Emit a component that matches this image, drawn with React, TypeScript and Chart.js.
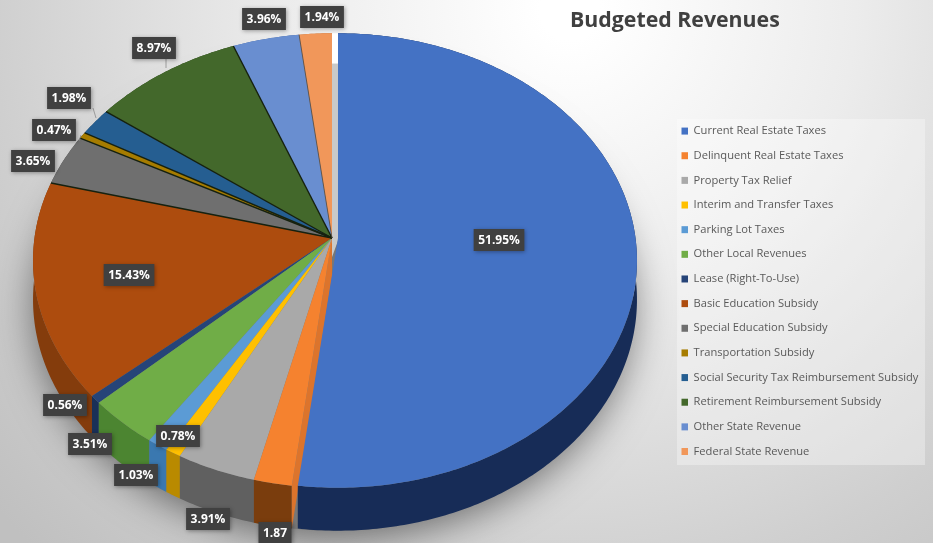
import React, { useEffect, useRef } from "react";
import Chart from "chart.js/auto";

const categories = [
  "Current Real Estate Taxes",
  "Delinquent Real Estate Taxes",
  "Property Tax Relief",
  "Interim and Transfer Taxes",
  "Parking Lot Taxes",
  "Other Local Revenues",
  "Lease (Right-To-Use)",
  "Basic Education Subsidy",
  "Special Education Subsidy",
  "Transportation Subsidy",
  "Social Security Tax Reimbursement Subsidy",
  "Retirement Reimbursement Subsidy",
  "Other State Revenue",
  "Federal State Revenue",
];
const shares = [51.95, 1.87, 3.91, 0.78, 1.03, 3.51, 0.56, 15.43, 3.65, 0.47, 1.98, 8.97, 3.96, 1.94];
const shareLabels = ["51.95%", "1.87", "3.91%", "0.78%", "1.03%", "3.51%", "0.56%", "15.43%", "3.65%", "0.47%", "1.98%", "8.97%", "3.96%", "1.94%"];

const faceColors = ["#4472c4", "#f5822f", "#a9a9a9", "#ffc000", "#5b9bd5", "#70ad47", "#264478", "#ad4c0e", "#6f6f6f", "#a67c00", "#255e91", "#43682b", "#698ed0", "#f1975a"];
const sideColors = ["#172c57", "#7a3d0d", "#606060", "#b98a00", "#3a78b0", "#4c8531", "#1a3058", "#843c0c", "#4a4a4a", "#6b5000", "#163c5e", "#2b431c", "#44659e", "#b9703c"];
const labelCenters = [[499, 240], [275, 533], [208, 519], [178, 436], [136, 475], [90, 444], [65, 405], [129, 275], [33, 161], [54, 130], [69, 98], [154, 48], [264, 19], [322, 17]];
const leaderLines = [[166, 59, 166, 68], [93, 108, 96, 118], [79, 141, 81, 135]];

const CX = 332, CY = 238, RX = 297.5, RY = 225, K = 0.099, D0 = 38.7, BLUE_SHIFT = 6;

function project(theta: number, r: number, ox = 0, depth = 0) {
  const u = r * Math.sin(theta);
  const v = -r * Math.cos(theta);
  const w = 1 - K * v;
  return { x: CX + ox + (RX * u) / w, y: CY + (RY * v) / w + (depth * D0) / w };
}
function rim(a: number, b: number, ox: number, depth: number) {
  const pts = [];
  const n = Math.max(2, Math.ceil(Math.abs(b - a) / 0.012));
  for (let i = 0; i <= n; i++) pts.push(project(a + ((b - a) * i) / n, 1, ox, depth));
  return pts;
}
function fillPoly(ctx: CanvasRenderingContext2D, pts: any[], color: string) {
  ctx.beginPath();
  pts.forEach((p, i) => (i ? ctx.lineTo(p.x, p.y) : ctx.moveTo(p.x, p.y)));
  ctx.closePath();
  ctx.fillStyle = color;
  ctx.fill();
}

const piePerspective = {
  id: "piePerspective",
  afterLayout(chart: any) {
    const legend = chart.legend;
    const pad = legend.options.labels.padding;
    legend.left = 681.5 - pad;
    legend.top = 125.5 - pad;
    const title = chart.titleBlock;
    title.left = 570;
    title.right = 900;
    title.top = 8;
  },
  beforeDraw(chart: any) {
    const { ctx, width, height } = chart;
    const bg = ctx.createRadialGradient(570, 10, 30, 570, 10, 760);
    bg.addColorStop(0, "#ffffff");
    bg.addColorStop(0.35, "#ececec");
    bg.addColorStop(0.75, "#cfcfcf");
    bg.addColorStop(1, "#c0c0c0");
    ctx.save();
    ctx.fillStyle = bg;
    ctx.fillRect(0, 0, width, height);
    ctx.fillStyle = "rgba(255,255,255,0.32)";
    ctx.fillRect(677, 119, 248, 346);
    ctx.restore();
  },
  beforeDatasetsDraw(chart: any) {
    const { ctx } = chart;
    const arcs = chart.getDatasetMeta(0).data;
    const angle = (a: number) => a + Math.PI / 2;
    ctx.save();

    // cast shadow
    ctx.save();
    ctx.shadowColor = "rgba(0,0,0,0.5)";
    ctx.shadowBlur = 38;
    ctx.shadowOffsetY = 8;
    fillPoly(ctx, rim(0, Math.PI * 2, 2, 1), "#777");
    ctx.restore();

    // gap behind the pulled-out slice
    const gapTop = project(0, 0.84);
    fillPoly(ctx, [gapTop, { x: gapTop.x + BLUE_SHIFT + 1, y: gapTop.y }, { x: CX + BLUE_SHIFT + 1, y: CY }, { x: CX - 4, y: CY + 30 }, { x: CX, y: CY }], "#c9c9c9");
    fillPoly(ctx, [project(0, 1), { x: CX + BLUE_SHIFT + 1, y: project(0, 1).y }, { x: gapTop.x + BLUE_SHIFT + 1, y: gapTop.y }, gapTop], "#ffffff");

    // rim sides, last slice first
    for (let i = arcs.length - 1; i >= 1; i--) {
      const a = angle(arcs[i].startAngle), b = angle(arcs[i].endAngle);
      fillPoly(ctx, [...rim(a, b, 0, 0), ...rim(a, b, 0, 1).reverse()], sideColors[i]);
    }
    // cut wall of the slice next to the pulled-out one
    const e1 = angle(arcs[1].startAngle);
    const wallRim = project(e1, 1), wallLow = project(e1, 1, 0, 1);
    fillPoly(ctx, [{ x: CX, y: CY }, wallRim, wallLow, { x: CX, y: CY + D0 }], "#dc742c");

    // top faces
    for (let i = arcs.length - 1; i >= 1; i--) {
      const a = angle(arcs[i].startAngle), b = angle(arcs[i].endAngle);
      fillPoly(ctx, [{ x: CX, y: CY }, ...rim(a, b, 0, 0)], faceColors[i]);
    }
    for (let i = 8; i < arcs.length; i++) {
      const p = project(angle(arcs[i].startAngle), 1);
      ctx.beginPath();
      ctx.moveTo(CX, CY);
      ctx.lineTo(p.x, p.y);
      ctx.strokeStyle = i === 13 ? "#5a4a3a" : "#16210f";
      ctx.lineWidth = i === 13 ? 0.8 : 1.4;
      ctx.stroke();
    }

    // pulled-out slice
    const a0 = angle(arcs[0].startAngle), b0 = angle(arcs[0].endAngle);
    fillPoly(ctx, [...rim(a0, b0, BLUE_SHIFT, 0), ...rim(a0, b0, BLUE_SHIFT, 1).reverse()], sideColors[0]);
    fillPoly(ctx, [{ x: CX + BLUE_SHIFT, y: CY }, ...rim(a0, b0, BLUE_SHIFT, 0)], faceColors[0]);

    // leader lines
    ctx.strokeStyle = "#8c8c8c";
    ctx.lineWidth = 0.8;
    leaderLines.forEach(([x1, y1, x2, y2]) => {
      ctx.beginPath();
      ctx.moveTo(x1, y1);
      ctx.lineTo(x2, y2);
      ctx.stroke();
    });

    // data labels
    ctx.font = "bold 12px 'Open Sans'";
    ctx.textAlign = "center";
    ctx.textBaseline = "middle";
    shareLabels.forEach((text, i) => {
      const [x, y] = labelCenters[i];
      const w = ctx.measureText(text).width + 9;
      ctx.save();
      ctx.shadowColor = "rgba(0,0,0,0.35)";
      ctx.shadowBlur = 4;
      ctx.shadowOffsetX = 1;
      ctx.shadowOffsetY = 1;
      ctx.fillStyle = "#404040";
      ctx.fillRect(x - w / 2, y - 11, w, 22);
      ctx.restore();
      ctx.fillStyle = "#ffffff";
      ctx.fillText(text, x, y + 0.5);
    });
    ctx.restore();
    return false;
  },
};

export default function App() {
  const ref = useRef<HTMLCanvasElement>(null);
  useEffect(() => {
    const chart = new Chart(ref.current as HTMLCanvasElement, {
      type: "pie",
      data: {
        labels: categories,
        datasets: [{ data: shares, backgroundColor: faceColors, borderWidth: 0 }],
      },
      options: {
        responsive: false,
        animation: false,
        devicePixelRatio: 1,
        layout: { padding: 0 },
        plugins: {
          tooltip: { enabled: false },
          title: {
            display: true,
            text: "Budgeted Revenues",
            align: "start",
            color: "#404040",
            padding: 0,
            font: { family: "'Open Sans'", size: 21.3, weight: "bold", lineHeight: 1.2 },
          },
          legend: {
            position: "right",
            align: "start",
            labels: {
              boxWidth: 6.5,
              boxHeight: 7,
              padding: 13.5,
              color: "#595959",
              font: { family: "'Open Sans'", size: 11.15, lineHeight: 1.25 },
            },
          },
        },
      },
      plugins: [piePerspective],
    } as any);
    return () => chart.destroy();
  }, []);
  return (
    <div style={{ position: "fixed", left: 0, top: 0, width: 933, height: 543 }}>
      <canvas ref={ref} width={933} height={543} style={{ display: "block" }} />
    </div>
  );
}
